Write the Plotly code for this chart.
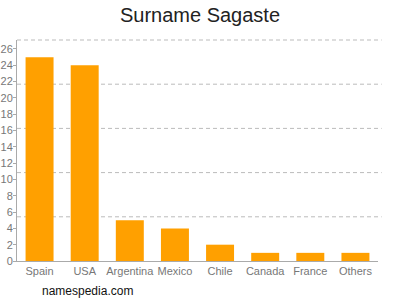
import plotly.graph_objects as go

categories = ["Spain", "USA", "Argentina", "Mexico", "Chile", "Canada", "France", "Others"]
values = [25, 24, 5, 4, 2, 1, 1, 1]
tick_vals = list(range(0, 27, 2))

fig = go.Figure(go.Bar(x=categories, y=values, marker=dict(color="#FFA000", line=dict(width=0))))

shapes = []
for f in [0.2, 0.4, 0.6, 0.8, 1.0]:
    shapes.append(dict(type="line", xref="paper", yref="paper", x0=0, x1=1.01, y0=f, y1=f,
                       line=dict(color="#BBBBBB", width=1, dash="4px,3px"), layer="below"))

fig.update_layout(
    width=400, height=300,
    margin=dict(l=17, r=22, t=40, b=39, autoexpand=False),
    paper_bgcolor="white", plot_bgcolor="white",
    font=dict(family="Liberation Sans, Arial, sans-serif", size=11, color="#777777"),
    title=dict(text="Surname Sagaste", x=0.5, xanchor="center", y=0.95, yanchor="middle",
               font=dict(size=20, color="#222222")),
    bargap=0.38,
    shapes=shapes,
    showlegend=False,
    xaxis=dict(showline=True, linecolor="#AAAAAA", linewidth=1, ticks="", showgrid=False,
               automargin=False, tickfont=dict(size=11, color="#777777")),
    yaxis=dict(range=[0, 27.1], tickvals=tick_vals, showgrid=False, showline=True,
               linecolor="#AAAAAA", linewidth=1, ticks="outside", ticklen=3, tickcolor="#AAAAAA",
               ticklabelstandoff=-2,
               automargin=False, tickfont=dict(size=11, color="#777777"), zeroline=False),
    annotations=[dict(text="namespedia.com", xref="paper", yref="paper", x=0.064, y=-0.135,
                      xanchor="left", yanchor="middle", showarrow=False,
                      font=dict(size=12, color="#111111"))],
)

fig.write_html("out.html")
